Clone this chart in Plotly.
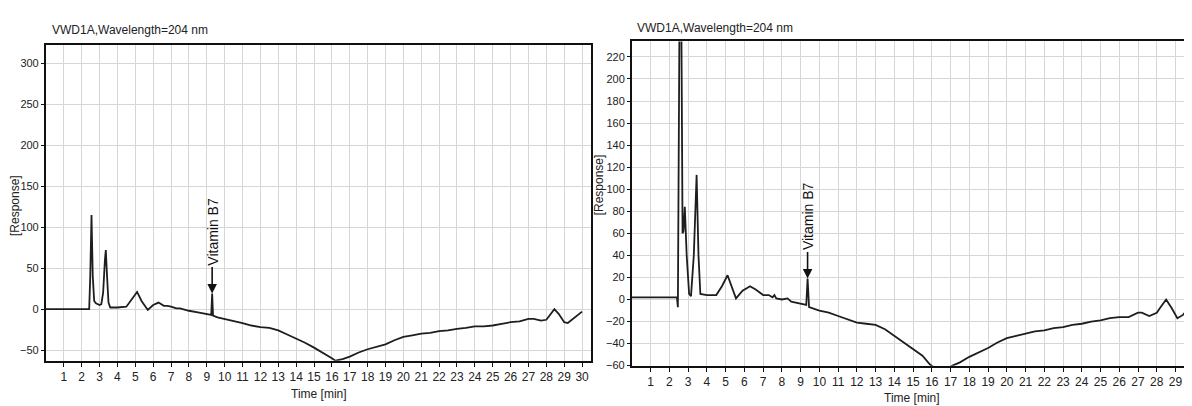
import plotly.graph_objects as go

# ---- data: left chromatogram ----
t_left = [0, 1, 2, 2.42, 2.48, 2.55, 2.62, 2.7, 2.8, 2.9, 3.0, 3.1, 3.2, 3.3, 3.35, 3.42, 3.5, 3.6,
          4.0, 4.5, 4.8, 5.1, 5.35, 5.7, 6.0, 6.3, 6.6, 6.8, 7.0, 7.3, 7.5, 8.0, 8.5, 9.0, 9.25, 9.3,
          9.35, 9.6, 10.0, 10.5, 11.0, 11.5, 12.0, 12.5, 13.0, 13.5, 14.0, 14.5, 15.0, 15.5, 16.0,
          16.2, 16.6, 17.0, 17.5, 18.0, 18.5, 19.0, 19.5, 20.0, 20.5, 21.0, 21.5, 22.0, 22.5, 23.0,
          23.5, 24.0, 24.5, 25.0, 25.5, 26.0, 26.5, 27.0, 27.3, 27.7, 28.0, 28.2, 28.45, 28.7, 29.0,
          29.2, 29.5, 29.8, 30.0]
r_left = [0, 0, 0, 0, 40, 115, 40, 10, 7, 6, 5, 6, 20, 60, 72, 40, 8, 2,
          2, 3, 12, 21, 10, -1, 5, 8, 4, 4, 3, 1, 1, -2, -4, -6, -7, 19,
          -8, -10, -12, -14, -17, -20, -22, -23, -26, -31, -36, -41, -47, -53, -60,
          -63, -61, -58, -53, -49, -46, -43, -38, -34, -32, -30, -29, -27, -26, -24,
          -23, -21, -21, -20, -18, -16, -15, -12, -12, -14, -13, -7, 0, -6, -16,
          -17, -12, -6, -3]

# ---- data: right chromatogram ----
t_right = [0, 1, 2, 2.4, 2.45, 2.5, 2.55, 2.62, 2.7, 2.75, 2.82, 2.92, 3.05, 3.15, 3.3, 3.45,
           3.55, 3.65, 4.0, 4.5, 4.8, 5.1, 5.3, 5.55, 5.9, 6.3, 6.6, 7.0, 7.3, 7.5, 7.6, 7.7,
           8.0, 8.3, 8.5, 9.0, 9.3, 9.37, 9.45, 10.0, 10.5, 11.0, 11.5, 12.0, 12.5, 13.0, 13.5,
           14.0, 14.5, 15.0, 15.5, 15.9, 16.5, 17.1, 17.5, 18.0, 18.5, 19.0, 19.5, 20.0, 20.5,
           21.0, 21.5, 22.0, 22.5, 23.0, 23.5, 24.0, 24.5, 25.0, 25.5, 26.0, 26.5, 27.0, 27.2,
           27.6, 28.0, 28.2, 28.5, 28.8, 29.1, 29.4, 29.7, 30.0, 30.3]
r_right = [2, 2, 2, 2, -7, 120, 300, 300, 60, 62, 84, 40, 5, 3, 40, 113,
           40, 5, 4, 4, 12, 22, 12, 1, 8, 12, 9, 4, 4, 2, 4, 1,
           0, 1, -2, -4, -5, 19, -7, -10, -12, -15, -18, -21, -22, -23, -27,
           -33, -39, -45, -51, -59, -66, -60, -57, -52, -48, -44, -39, -35, -33,
           -31, -29, -28, -26, -25, -23, -22, -20, -19, -17, -16, -16, -12, -12,
           -15, -12, -7, 0, -8, -17, -14, -8, -4, -1]

left_yticks = [-50, 0, 50, 100, 150, 200, 250, 300]
right_yticks = [-60, -40, -20, 0, 20, 40, 60, 80, 100, 120, 140, 160, 180, 200, 220]
x_ticks = list(range(1, 31))
title_text = "VWD1A,Wavelength=204 nm"
peak_label = "Vitamin B7"
peak_left = (9.3, 19)
peak_right = (9.37, 19)

W, H = 1192, 406
SANS = "Liberation Sans, Arial, sans-serif"

fig = go.Figure()
line_style = dict(color="#1e1e1e", width=1.8)
fig.add_trace(go.Scatter(x=t_left, y=r_left, mode="lines", line=line_style,
                         xaxis="x", yaxis="y", showlegend=False))
fig.add_trace(go.Scatter(x=t_right, y=r_right, mode="lines", line=line_style,
                         xaxis="x2", yaxis="y2", showlegend=False))

def px(x):
    return x / W

def py(y):
    return 1 - y / H

axis_common = dict(showline=True, linecolor="#111", linewidth=2, mirror=True,
                   ticks="outside", ticklen=4, tickcolor="#111", tickwidth=1,
                   showgrid=True, gridcolor="#d6d6d6", gridwidth=1, zeroline=False,
                   tickangle=0,
                   tickfont=dict(family=SANS, size=12, color="#222"))
ytick_font = dict(family=SANS, size=11, color="#222")

fig.update_layout(
    width=W, height=H, margin=dict(l=0, r=0, t=0, b=0),
    paper_bgcolor="white", plot_bgcolor="white",
    xaxis=dict(axis_common, domain=[px(38), px(584)], range=[0, 30.5], tickvals=x_ticks,
               anchor="y"),
    yaxis=dict(axis_common, domain=[py(358), py(38)], range=[-63, 322], tickvals=left_yticks,
               anchor="x", ticklen=3, tickfont=ytick_font),
    xaxis2=dict(axis_common, domain=[px(625), 1], range=[0, 30.2], tickvals=x_ticks,
                anchor="y2"),
    yaxis2=dict(axis_common, domain=[py(363), py(34)], range=[-60, 234], tickvals=right_yticks,
                anchor="x2", ticklen=3, tickfont=ytick_font),
)

ann = []
# titles
ann.append(dict(text=title_text, x=px(42), y=py(22), xref="paper", yref="paper",
                xanchor="left", yanchor="middle", showarrow=False,
                font=dict(family=SANS, size=12, color="#222")))
ann.append(dict(text=title_text, x=px(628), y=py(20), xref="paper", yref="paper",
                xanchor="left", yanchor="middle", showarrow=False,
                font=dict(family=SANS, size=12, color="#222")))
# x axis titles
ann.append(dict(text="Time [min]", x=px(312), y=py(392), xref="paper", yref="paper",
                xanchor="center", yanchor="middle", showarrow=False,
                font=dict(family=SANS, size=12, color="#222")))
ann.append(dict(text="Time [min]", x=px(906), y=py(396), xref="paper", yref="paper",
                xanchor="center", yanchor="middle", showarrow=False,
                font=dict(family=SANS, size=12, color="#222")))
# y axis titles
ann.append(dict(text="[Response]", x=px(7), y=py(200), xref="paper", yref="paper",
                xanchor="center", yanchor="middle", showarrow=False, textangle=-90,
                font=dict(family=SANS, size=12, color="#222")))
ann.append(dict(text="[Response]", x=px(592), y=py(180), xref="paper", yref="paper",
                xanchor="center", yanchor="middle", showarrow=False, textangle=-90,
                font=dict(family=SANS, size=12, color="#222")))
# peak labels
for (xv, yv), xr, yr in [(peak_left, "x", "y"), (peak_right, "x2", "y2")]:
    ann.append(dict(text=peak_label, x=xv, y=yv, xref=xr, yref=yr, showarrow=True,
                    arrowhead=2, arrowsize=1.2, arrowwidth=1.6, arrowcolor="#111",
                    ax=0, ay=-62, textangle=-90,
                    font=dict(family=SANS, size=14, color="#111")))
fig.update_layout(annotations=ann)

fig.write_html("out.html")
